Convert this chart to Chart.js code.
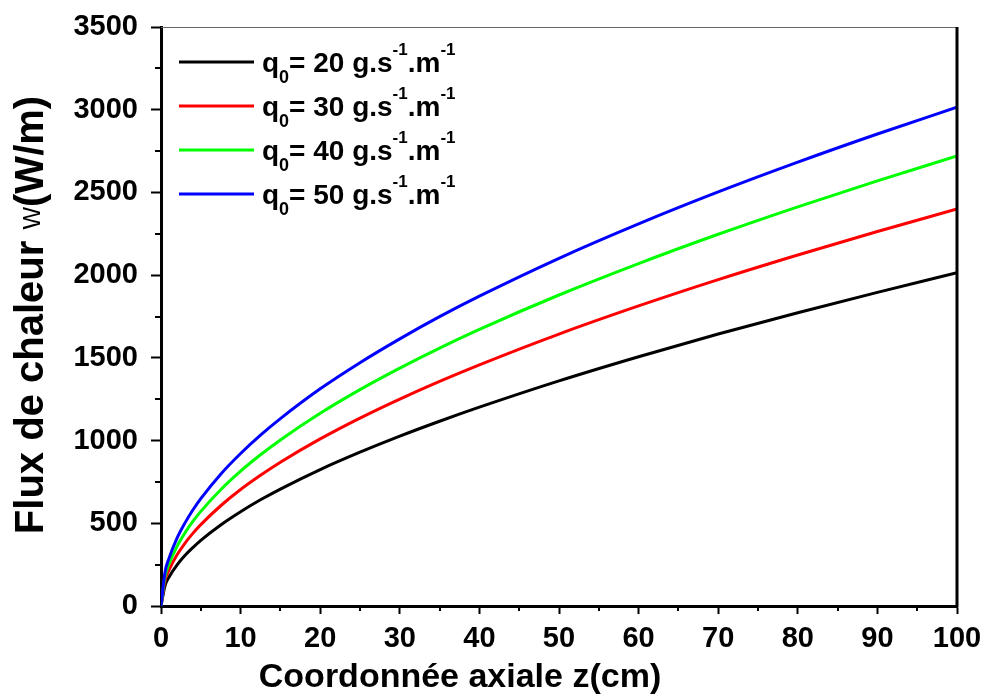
<!DOCTYPE html>
<html>
<head>
<meta charset="utf-8">
<script src="https://cdn.jsdelivr.net/npm/chart.js@4"></script>
<style>
  body { margin: 0; background: #fff; }
</style>
</head>
<body>
<canvas id="fluxChart" width="987" height="697"></canvas>
<script>
// axial coordinate z (cm)
const zValues = [0, 0.5, 1, 2, 3, 4, 5, 7.5, 10, 12.5, 15, 20, 25, 30, 35, 40, 50, 60, 70, 80, 90, 100];

// heat flux (W/m)
const flux20 = [0, 122, 174, 247, 305, 353, 397, 490, 570, 642, 707, 825, 930, 1027, 1117, 1202, 1361, 1507, 1644, 1773, 1896, 2015];
const flux30 = [0, 153, 217, 308, 379, 439, 492, 606, 704, 790, 869, 1010, 1136, 1251, 1358, 1458, 1644, 1814, 1973, 2122, 2264, 2400];
const flux40 = [0, 179, 253, 359, 441, 511, 572, 703, 815, 914, 1004, 1165, 1308, 1438, 1559, 1672, 1880, 2070, 2247, 2413, 2570, 2720];
const flux50 = [0, 204, 288, 409, 501, 580, 649, 797, 922, 1033, 1133, 1313, 1471, 1615, 1749, 1873, 2102, 2310, 2503, 2683, 2853, 3015];

const flowRates = [20, 30, 40, 50];   // q0 in g.s-1.m-1
const seriesList = [flux20, flux30, flux40, flux50];
const lineColors = ["#000000", "#ff0000", "#00ff00", "#0000ff"];

const FONT = '"Liberation Sans", Arial, sans-serif';

const datasets = seriesList.map((vals, i) => ({
    label: "q0= " + flowRates[i] + " g.s-1.m-1",
    data: zValues.map((z, k) => ({ x: z, y: vals[k] })),
    borderColor: lineColors[i],
    borderWidth: 3,
    pointRadius: 0,
    fill: false,
    cubicInterpolationMode: "monotone",
    order: seriesList.length - i   // blue on top
}));

// draws what Chart.js can't: minor ticks, frame, titles with odd fonts, legend with sub/superscripts
const extras = {
    id: "extras",
    afterDraw(chart) {
        const { ctx, chartArea: a, scales: { x, y } } = chart;
        ctx.save();

        // top border (thin grey) and right border (thick black)
        ctx.strokeStyle = "#666";
        ctx.lineWidth = 1;
        ctx.beginPath();
        ctx.moveTo(a.left, a.top + 0.5);
        ctx.lineTo(a.right, a.top + 0.5);
        ctx.stroke();
        ctx.strokeStyle = "#000";
        ctx.lineWidth = 3;
        ctx.beginPath();
        ctx.moveTo(a.right, a.top);
        ctx.lineTo(a.right, a.bottom + 1.5);
        ctx.stroke();

        // minor ticks halfway between major ones
        ctx.lineWidth = 2;
        ctx.beginPath();
        for (let i = 0; i < y.ticks.length - 1; i++) {
            const py = Math.round(y.getPixelForValue((y.ticks[i].value + y.ticks[i + 1].value) / 2));
            ctx.moveTo(a.left, py);
            ctx.lineTo(a.left - 6, py);
        }
        for (let i = 0; i < x.ticks.length - 1; i++) {
            const px = Math.round(x.getPixelForValue((x.ticks[i].value + x.ticks[i + 1].value) / 2));
            ctx.moveTo(px, a.bottom);
            ctx.lineTo(px, a.bottom + 5);
        }
        ctx.stroke();

        // x title
        ctx.fillStyle = "#000";
        ctx.font = "bold 34px " + FONT;
        ctx.textAlign = "center";
        ctx.textBaseline = "alphabetic";
        ctx.fillText("Coordonnée axiale z(cm)", 460, 687);

        // y title, rotated, mixed fonts
        const parts = [
            { t: "Flux de chaleur ", f: "bold 40px " + FONT, dy: 0 },
            { t: "W", f: "24px " + FONT, dy: -3 },
            { t: "(W/m)", f: "bold 40px " + FONT, dy: 0 }
        ];
        let total = 0;
        parts.forEach(p => { ctx.font = p.f; p.w = ctx.measureText(p.t).width; total += p.w; });
        ctx.translate(43, 315);
        ctx.rotate(-Math.PI / 2);
        ctx.textAlign = "left";
        let cx = -total / 2;
        parts.forEach(p => { ctx.font = p.f; ctx.fillText(p.t, cx, p.dy); cx += p.w; });
        ctx.setTransform(1, 0, 0, 1, 0, 0);

        // legend
        chart.data.datasets.forEach((ds, i) => {
            const rowY = a.top + 35 + i * 44;
            ctx.strokeStyle = ds.borderColor;
            ctx.lineWidth = 3;
            ctx.beginPath();
            ctx.moveTo(a.left + 18, rowY);
            ctx.lineTo(a.left + 93, rowY);
            ctx.stroke();

            const bits = [
                { t: "q", f: "bold 28px " + FONT, dy: 10 },
                { t: "0", f: "bold 18px " + FONT, dy: 21 },
                { t: "= " + flowRates[i] + " g.s", f: "bold 28px " + FONT, dy: 10 },
                { t: "-1", f: "bold 17px " + FONT, dy: -7 },
                { t: ".m", f: "bold 28px " + FONT, dy: 10 },
                { t: "-1", f: "bold 17px " + FONT, dy: -7 }
            ];
            let tx = a.left + 101;
            ctx.fillStyle = "#000";
            ctx.textAlign = "left";
            bits.forEach(b => {
                ctx.font = b.f;
                ctx.fillText(b.t, tx, rowY + b.dy);
                tx += ctx.measureText(b.t).width;
            });
        });

        ctx.restore();
    }
};

new Chart(document.getElementById("fluxChart"), {
    type: "line",
    data: { datasets: datasets },
    options: {
        responsive: false,
        animation: false,
        devicePixelRatio: 1,
        layout: { padding: { left: 0, right: 30, top: 27, bottom: 0 } },
        plugins: {
            legend: { display: false },
            tooltip: { enabled: false }
        },
        scales: {
            x: {
                type: "linear",
                min: 0,
                max: 100,
                ticks: {
                    stepSize: 10,
                    maxRotation: 0,
                    autoSkip: false,
                    padding: 8,
                    color: "#000",
                    callback: v => String(v),
                    font: { family: FONT, size: 29, weight: "bold" }
                },
                grid: { drawOnChartArea: false, tickLength: 8, tickWidth: 2, tickColor: "#000" },
                border: { color: "#000", width: 3 },
                afterFit: s => { s.height = 91; s.paddingLeft = 0; s.paddingRight = 0; }
            },
            y: {
                min: 0,
                max: 3500,
                ticks: {
                    stepSize: 500,
                    padding: 13,
                    color: "#000",
                    callback: v => String(v),
                    font: { family: FONT, size: 29, weight: "bold" }
                },
                grid: { drawOnChartArea: false, tickLength: 10, tickWidth: 2, tickColor: "#000" },
                border: { color: "#000", width: 3 },
                afterFit: s => { s.width = 161; s.paddingTop = 0; s.paddingBottom = 0; }
            }
        }
    },
    plugins: [extras]
});
</script>
</body>
</html>
